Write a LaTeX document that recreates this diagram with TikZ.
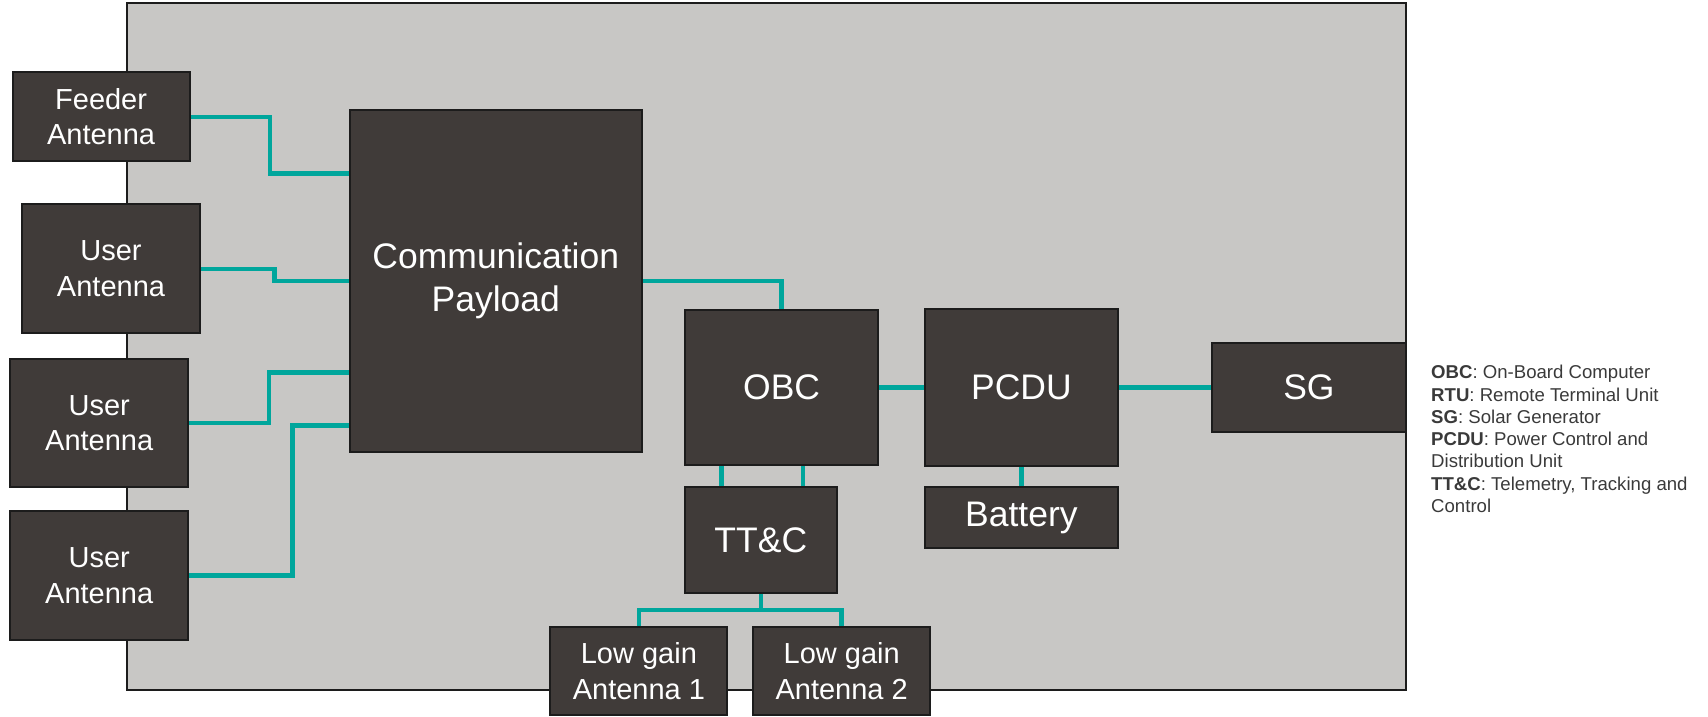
\documentclass[tikz,border=0pt]{standalone}
\usepackage{fontspec}
\setmainfont{Liberation Sans}
\usetikzlibrary{backgrounds}
\definecolor{boxfill}{HTML}{403B39}
\definecolor{framefill}{HTML}{C8C7C5}
\definecolor{tealline}{HTML}{00A69C}
\definecolor{edgecol}{HTML}{1C1C1C}
\definecolor{legendtext}{HTML}{3A3A3A}
\begin{document}
\begin{tikzpicture}[x=1pt,y=-1pt,
  unit/.style={draw=edgecol,line width=2pt,fill=boxfill,text=white,inner sep=0pt,align=center},
  big/.style={font=\fontsize{35.5}{43}\selectfont},
  small/.style={font=\fontsize{29}{35.5}\selectfont},
  conn/.style={draw=tealline,line width=4.5pt},
  legend/.style={anchor=base west,inner sep=0pt,text=legendtext,font=\fontsize{18.6}{22.3}\selectfont}]
\useasboundingbox (0,0) rectangle (1708,716);

% units
\node[unit,small,minimum width=177.2pt,minimum height=89pt] (feeder) at (101.1,116.8) {Feeder\\Antenna};
\node[unit,small,minimum width=177.3pt,minimum height=129pt] (user1) at (111,268.8) {User\\Antenna};
\node[unit,small,minimum width=177.7pt,minimum height=128.3pt] (user2) at (99.2,423.2) {User\\Antenna};
\node[unit,small,minimum width=177.7pt,minimum height=129pt] (user3) at (99.2,575.5) {User\\Antenna};
\node[unit,big,minimum width=292.4pt,minimum height=342pt] (cp) at (495.8,281) {Communication\\Payload};
\node[unit,big,minimum width=193.2pt,minimum height=155.7pt] (obc) at (781.6,387.6) {OBC};
\node[unit,big,minimum width=193.7pt,minimum height=156.4pt] (pcdu) at (1021.4,387.6) {PCDU};
\node[unit,big,minimum width=151.5pt,minimum height=106.6pt] (ttc) at (760.8,540) {TT\&C};
\node[unit,big,minimum width=193.7pt,minimum height=61.6pt] (battery) at (1021.4,517.5) {Battery};
\node[unit,small,minimum width=177pt,minimum height=88pt] (lg1) at (638.9,671) {Low gain\\Antenna 1};
\node[unit,small,minimum width=177.3pt,minimum height=88pt] (lg2) at (841.7,671) {Low gain\\Antenna 2};
\node[unit,big,minimum width=193.2pt,minimum height=89.3pt] (sg) at (1308.9,387.6) {SG};

\coordinate (tj) at (760.8,610);

\begin{pgfonlayer}{background}
  \node[draw=edgecol,line width=2pt,fill=framefill,minimum width=1279pt,minimum height=687pt,inner sep=0pt] (frame) at (766.5,346.5) {};
  \draw[conn] (feeder.east) -| (270,173.3) -- (cp.west |- 0,173.3);
  \draw[conn] (user1.east) -| (274.5,281) -- (cp.west |- 0,281);
  \draw[conn] (user2.east) -| (269,372.3) -- (cp.west |- 0,372.3);
  \draw[conn] (user3.east) -| (292.4,425.7) -- (cp.west |- 0,425.7);
  \draw[conn] (cp.east) -| (obc.north);
  \draw[conn] (obc.south -| 721.7,0) -- (ttc.north -| 721.7,0);
  \draw[conn] (obc.south -| 802.8,0) -- (ttc.north -| 802.8,0);
  \draw[conn] (obc.east) -- (pcdu.west);
  \draw[conn] (pcdu.east) -- (sg.west);
  \draw[conn] (pcdu.south) -- (battery.north);
  \draw[conn] (ttc.south) -- (tj);
  \draw[conn] (lg1.north) |- (tj) -| (lg2.north);
\end{pgfonlayer}

% legend
\node[legend] (leg1) at (1431,378.7) {\textbf{OBC}: On-Board Computer};
\node[legend] (leg2) at (1431,401.0) {\textbf{RTU}: Remote Terminal Unit};
\node[legend] (leg3) at (1431,423.3) {\textbf{SG}: Solar Generator};
\node[legend] (leg4) at (1431,445.6) {\textbf{PCDU}: Power Control and};
\node[legend] (leg5) at (1431,467.9) {Distribution Unit};
\node[legend] (leg6) at (1431,490.2) {\textbf{TT\&C}: Telemetry, Tracking and};
\node[legend] (leg7) at (1431,512.5) {Control};
\end{tikzpicture}
\end{document}
